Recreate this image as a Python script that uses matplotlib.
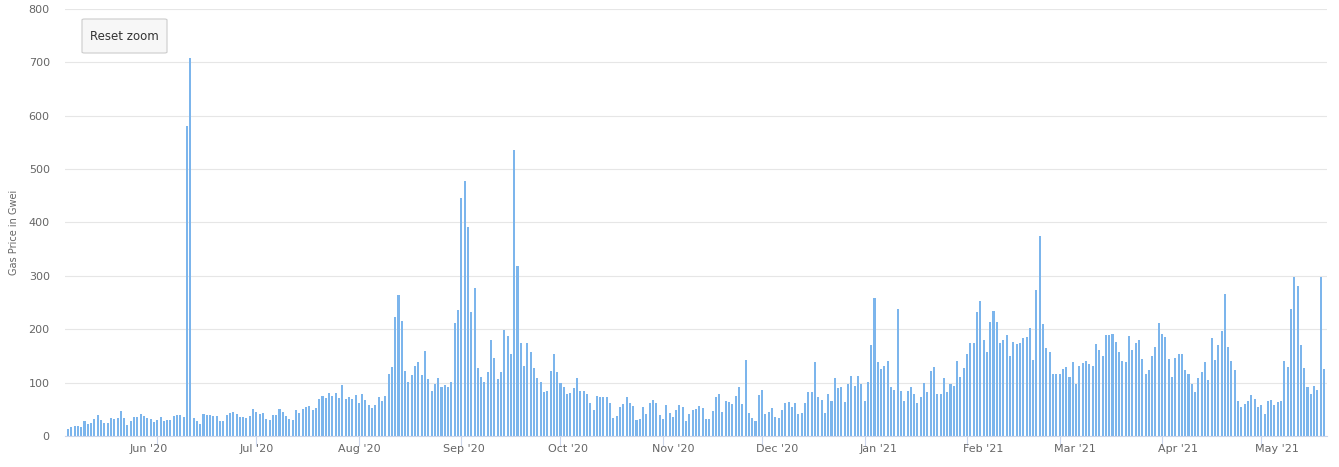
import matplotlib
matplotlib.use('Agg')
import matplotlib.pyplot as plt
import matplotlib.dates as mdates
from matplotlib.patches import FancyBboxPatch
import pandas as pd

# daily average gas price (Gwei), one value per day starting at start_date
start_date = '2020-05-05'
gas_price = [
    13, 17, 19, 19, 17, 28, 23, 25, 32, 40, 30, 25, 25, 34, 32, 34, 47, 34, 21, 28,
    36, 36, 42, 38, 34, 32, 26, 30, 36, 28, 30, 30,
    38, 40, 40, 36, 580, 708, 34, 28, 23, 42, 40, 40, 38, 38, 28, 28, 40, 43, 45, 42,
    36, 36, 34, 38, 51, 45, 42, 43, 32, 30, 40,
    40, 51, 45, 38, 32, 30, 49, 43, 51, 55, 57, 49, 53, 70, 75, 72, 81, 75, 81, 72,
    96, 70, 74, 70, 77, 62, 79, 68, 58, 53, 58, 74,
    66, 75, 117, 130, 223, 264, 215, 121, 102, 115, 132, 138, 115, 160, 106, 85, 98, 109, 92, 96,
    92, 102, 211, 236, 445, 478, 392, 232, 277, 128, 111,
    102, 119, 179, 147, 106, 119, 198, 187, 153, 535, 319, 174, 132, 175, 158, 128, 108, 102, 83, 85,
    121, 153, 119, 100, 92, 79, 81, 89, 108, 85, 85, 79,
    62, 49, 75, 74, 74, 74, 62, 34, 38, 55, 60, 74, 62, 57, 30, 32, 55, 42, 62, 68,
    62, 40, 32, 58, 43, 36, 49, 58, 55, 28, 42,
    49, 51, 57, 53, 32, 32, 47, 74, 79, 45, 66, 64, 60, 75, 92, 60, 142, 43, 34, 28,
    77, 87, 42, 45, 53, 36, 34, 49, 62, 64, 55,
    62, 42, 43, 62, 83, 83, 138, 74, 68, 43, 79, 66, 108, 89, 91, 64, 98, 113, 94, 113,
    98, 66, 102, 170, 258, 138, 125, 132, 140, 91, 87, 238,
    85, 66, 85, 92, 79, 62, 74, 100, 83, 121, 130, 79, 79, 108, 83, 98, 94, 140, 111, 128,
    153, 175, 174, 232, 253, 179, 158, 213, 234, 213, 175,
    179, 189, 149, 177, 172, 174, 183, 185, 202, 143, 274, 375, 209, 164, 158, 117, 117, 117, 125, 130,
    111, 138, 98, 132, 136, 140, 134, 132, 172, 162, 149, 189,
    189, 192, 177, 158, 140, 138, 187, 162, 175, 179, 145, 117, 123, 149, 166, 211, 191, 185, 145, 111,
    147, 153, 153, 123, 117, 98, 83, 108, 119, 138, 104,
    183, 143, 170, 196, 266, 166, 140, 123, 66, 55, 60, 66, 77, 70, 55, 58, 42, 66, 68, 58,
    64, 66, 140, 130, 238, 298, 281, 170, 128, 92, 79, 94, 87, 298, 126,
]
month_starts = pd.date_range('2020-06-01', '2021-05-01', freq='MS')
month_labels = [d.strftime("%b '%y") for d in month_starts]
y_ticks = [0, 100, 200, 300, 400, 500, 600, 700, 800]

# where the month labels sit relative to the month tick (days), as seen in the source
label_shift = [-2.7, 0, 0, 0.9, 2.4, 3.0, 4.5, 4.2, 4.8, 4.5, 4.8, 4.8]

dates = pd.date_range(start_date, periods=len(gas_price), freq='D')
x = mdates.date2num(dates.to_pydatetime())
tick_x = mdates.date2num(month_starts.to_pydatetime())

plt.rcParams['font.family'] = ['DejaVu Sans']

fig = plt.figure(figsize=(13.39, 4.67), dpi=100)
ax = fig.add_axes([65 / 1339, 31 / 467, 1262 / 1339, 427 / 467])

ax.bar(x, gas_price, width=0.62, color='#7cb5ec', zorder=2)

ax.set_xlim(x[0] - 0.9, x[-1] + 0.9)
ax.set_ylim(0, 800)

ax.set_yticks(y_ticks)
ax.set_yticklabels([str(v) for v in y_ticks], fontsize=8, color='#666666')
ax.tick_params(axis='y', length=0, pad=11)
ax.grid(axis='y', color='#e6e6e6', linewidth=0.8, zorder=0)

# tick marks at month starts, labels on minor ticks
ax.xaxis.remove_overlapping_locs = False
ax.set_xticks(tick_x)
ax.set_xticklabels([''] * len(tick_x))
ax.tick_params(axis='x', which='major', length=7.2, width=0.8, color='#ccd6eb')
ax.set_xticks([t + s for t, s in zip(tick_x, label_shift)], minor=True)
ax.set_xticklabels(month_labels, minor=True, fontsize=8, color='#666666')
ax.tick_params(axis='x', which='minor', length=0, pad=6)

for side in ['top', 'right', 'left']:
    ax.spines[side].set_visible(False)
ax.spines['bottom'].set_color('#ccd6eb')
ax.spines['bottom'].set_linewidth(0.8)

fig.text(14 / 1339, 1 - 232 / 467, 'Gas Price in Gwei', rotation=90, fontsize=7,
         color='#666666', ha='center', va='center')

# "Reset zoom" button
btn = FancyBboxPatch((82 / 1339, 1 - 53 / 467), 85 / 1339, 34 / 467,
                     boxstyle='round,pad=0,rounding_size=0.002', transform=fig.transFigure,
                     facecolor='#f7f7f7', edgecolor='#cccccc', linewidth=0.8)
fig.patches.append(btn)
fig.text(124.5 / 1339, 1 - 36 / 467, 'Reset zoom', fontsize=8.5, color='#333333',
         ha='center', va='center')

fig.savefig('out.png', dpi=100)
